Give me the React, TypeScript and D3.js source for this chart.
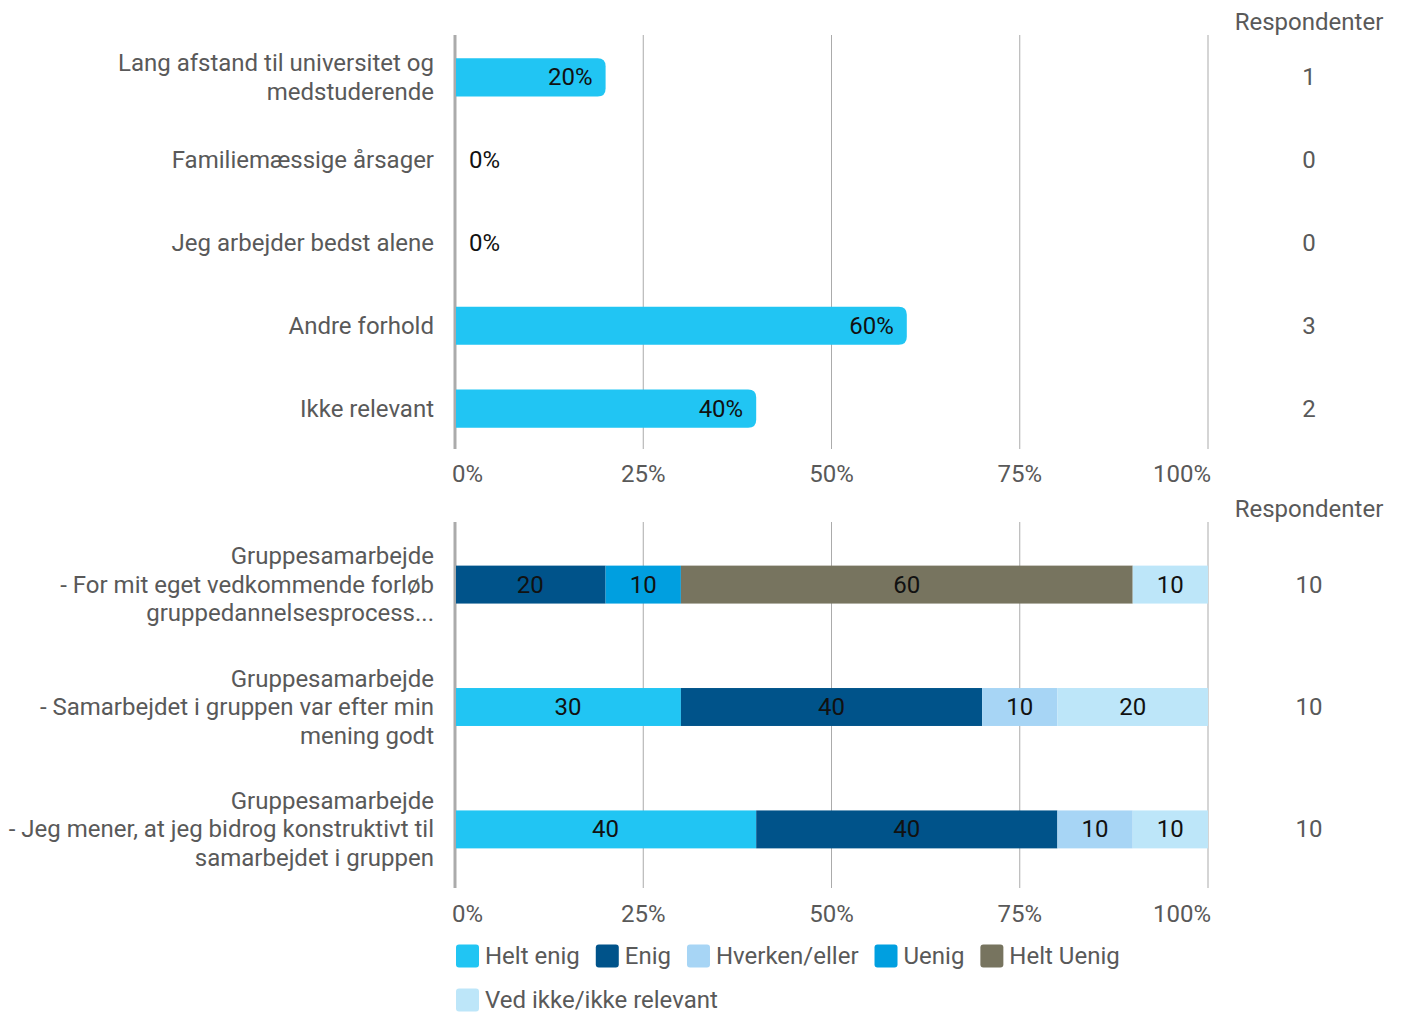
import * as d3 from "d3";

const topCategories = [
  ["Lang afstand til universitet og", "medstuderende"],
  ["Familiemæssige årsager"],
  ["Jeg arbejder bedst alene"],
  ["Andre forhold"],
  ["Ikke relevant"],
];
const topValues = [20, 0, 0, 60, 40];
const topRespondents = [1, 0, 0, 3, 2];

const bottomCategories = [
  ["Gruppesamarbejde", "- For mit eget vedkommende forløb", "gruppedannelsesprocess..."],
  ["Gruppesamarbejde", "- Samarbejdet i gruppen var efter min", "mening godt"],
  ["Gruppesamarbejde", "- Jeg mener, at jeg bidrog konstruktivt til", "samarbejdet i gruppen"],
];
const seriesNames = ["Helt enig", "Enig", "Hverken/eller", "Uenig", "Helt Uenig", "Ved ikke/ikke relevant"];
const seriesColors = ["#21c5f3", "#00538a", "#a7d5f5", "#009fe0", "#77745f", "#bde6f9"];
const helEnig = [0, 30, 40];
const enig = [20, 40, 40];
const hverken = [0, 10, 10];
const uenig = [10, 0, 0];
const heltUenig = [60, 0, 0];
const vedIkke = [10, 20, 10];
const bottomRespondents = [10, 10, 10];

const ticks = [0, 25, 50, 75, 100];

const W = 1401;
const H = 1014;
const FONT = "Roboto, sans-serif";
const FS = 24;
const TXT = "#595959";
const GRID = "#ababab";

// measure text width for legend layout
const ctx = document.createElement("canvas").getContext("2d")!;
ctx.font = `${FS}px Roboto`;
const textW = (s: string) => ctx.measureText(s).width;

export default function App() {
  const x = d3.scaleLinear().domain([0, 100]).range([455, 1208]);
  const yTop = d3.scaleBand<number>().domain(d3.range(topValues.length)).range([36, 450]).paddingInner(0.54).paddingOuter(0.27);
  const yBot = d3.scaleBand<number>().domain(d3.range(bottomCategories.length)).range([524, 890]).paddingInner(0.69).paddingOuter(0.34);

  const seriesData = [helEnig, enig, hverken, uenig, heltUenig, vedIkke];
  const rows = bottomCategories.map((_, i) => {
    const o: Record<string, number> = {};
    seriesNames.forEach((s, k) => (o[s] = seriesData[k][i]));
    return o;
  });
  const stacked = d3.stack<Record<string, number>>().keys(seriesNames)(rows);

  const r = 8;
  const roundedRight = (x0: number, y0: number, w: number, h: number) => {
    if (w <= 0) return "";
    const rr = Math.min(r, w);
    return `M${x0},${y0}H${x0 + w - rr}Q${x0 + w},${y0} ${x0 + w},${y0 + rr}V${y0 + h - rr}Q${x0 + w},${y0 + h} ${x0 + w - rr},${y0 + h}H${x0}Z`;
  };

  const axis = (top: number, bottom: number, labelY: number) => (
    <g>
      {ticks.slice(1).map((t) => (
        <line key={t} x1={x(t)} x2={x(t)} y1={top} y2={bottom} stroke={GRID} strokeWidth={1} />
      ))}
      <line x1={x(0)} x2={x(0)} y1={top} y2={bottom} stroke={GRID} strokeWidth={3} />
      {ticks.map((t, i) => (
        <text
          key={t}
          x={i === 0 ? x(t) - 3 : i === ticks.length - 1 ? x(t) + 3 : x(t)}
          y={labelY}
          textAnchor={i === 0 ? "start" : i === ticks.length - 1 ? "end" : "middle"}
          dominantBaseline="central"
          fill={TXT}
        >
          {t}%
        </text>
      ))}
    </g>
  );

  const catLabel = (lines: string[], cy: number, key: number) => (
    <text key={key} x={434} textAnchor="end" fill={TXT}>
      {lines.map((l, j) => (
        <tspan key={j} x={434} y={cy + (j - (lines.length - 1) / 2) * 28.5} dominantBaseline="central">
          {l}
        </tspan>
      ))}
    </text>
  );

  const legendRows = [seriesNames.slice(0, 5), seriesNames.slice(5)];

  return (
    <svg width={W} height={H} style={{ position: "absolute", left: 0, top: 0 }} fontFamily={FONT} fontSize={FS}>
      <rect width={W} height={H} fill="#fff" />
      {/* top chart */}
      {axis(35, 449, 474)}
      {topCategories.map((c, i) => catLabel(c, yTop(i)! + yTop.bandwidth() / 2, i))}
      {topValues.map((v, i) => {
        const y0 = yTop(i)!;
        const h = yTop.bandwidth();
        const w = x(v) - x(0);
        return (
          <g key={i}>
            <path d={roundedRight(x(0) + 1, y0, w - 1, h)} fill={seriesColors[0]} />
            <text
              x={v > 0 ? x(v) - 13 : x(0) + 14}
              y={y0 + h / 2}
              textAnchor={v > 0 ? "end" : "start"}
              dominantBaseline="central"
              fill="#111"
            >
              {v}%
            </text>
          </g>
        );
      })}
      <text x={1309} y={22} textAnchor="middle" dominantBaseline="central" fill={TXT}>Respondenter</text>
      {topRespondents.map((n, i) => (
        <text key={i} x={1309} y={yTop(i)! + yTop.bandwidth() / 2} textAnchor="middle" dominantBaseline="central" fill={TXT}>
          {n}
        </text>
      ))}

      {/* bottom chart */}
      {axis(522, 888, 914)}
      {bottomCategories.map((c, i) => catLabel(c, yBot(i)! + yBot.bandwidth() / 2, i))}
      {stacked.map((s, k) => (
        <g key={k} fill={seriesColors[k]}>
          {s.map((d, i) =>
            d[1] - d[0] > 0 ? (
              <g key={i}>
                <rect
                  x={x(d[0]) + (d[0] === 0 ? 1 : 0)}
                  y={yBot(i)!}
                  width={x(d[1]) - x(d[0]) - (d[0] === 0 ? 1 : 0)}
                  height={yBot.bandwidth()}
                />
                <text
                  x={(x(d[0]) + x(d[1])) / 2}
                  y={yBot(i)! + yBot.bandwidth() / 2}
                  textAnchor="middle"
                  dominantBaseline="central"
                  fill="#111"
                >
                  {d[1] - d[0]}
                </text>
              </g>
            ) : null
          )}
        </g>
      ))}
      <text x={1309} y={509} textAnchor="middle" dominantBaseline="central" fill={TXT}>Respondenter</text>
      {bottomRespondents.map((n, i) => (
        <text key={i} x={1309} y={yBot(i)! + yBot.bandwidth() / 2} textAnchor="middle" dominantBaseline="central" fill={TXT}>
          {n}
        </text>
      ))}

      {/* legend */}
      {(() => {
        let idx = 0;
        return legendRows.map((row, ri) => {
          let cx = 456;
          const cy = 956 + ri * 44;
          return row.map((name) => {
            const k = idx++;
            const el = (
              <g key={name}>
                <rect x={cx} y={cy - 11.5} width={23} height={23} rx={3} fill={seriesColors[k]} />
                <text x={cx + 29} y={cy} dominantBaseline="central" fill={TXT}>{name}</text>
              </g>
            );
            cx += 29 + textW(name) + 16;
            return el;
          });
        });
      })()}
    </svg>
  );
}
